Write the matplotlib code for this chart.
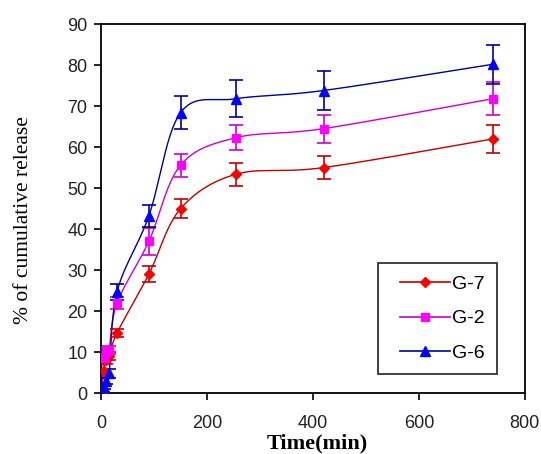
#!/usr/bin/env python3
import matplotlib
matplotlib.use("Agg")
import matplotlib.pyplot as plt
from matplotlib.lines import Line2D
from matplotlib.legend_handler import HandlerLine2D
import numpy as np

# sampling times (min)
time_min = [0, 5, 10, 15, 30, 90, 150, 255, 420, 740]

# cumulative release (%) and standard deviation per formulation
g7 = [0, 5.5, 8.0, 9.0, 14.7, 29.0, 45.0, 53.4, 55.0, 62.0]
g7_err = [0, 0.5, 0.8, 1.0, 1.0, 2.0, 2.4, 2.8, 2.9, 3.5]
g2 = [0, 8.5, 10.0, 10.5, 22.0, 37.0, 55.6, 62.3, 64.5, 71.8]
g2_err = [0, 1.0, 1.0, 1.0, 1.5, 3.2, 2.8, 3.0, 3.4, 4.0]
g6 = [0, 1.5, 3.0, 4.8, 24.7, 43.2, 68.4, 71.8, 73.8, 80.2]
g6_err = [0, 0.5, 0.8, 1.0, 2.0, 2.7, 4.0, 4.5, 4.8, 4.7]

labels = ["G-7", "G-2", "G-6"]
series = [g7, g2, g6]
errors = [g7_err, g2_err, g6_err]
line_colors = ["#c00000", "#cc00cc", "#000099"]
marker_colors = ["#ff0000", "#ff00ff", "#0000ff"]
markers = ["D", "s", "^"]
msizes = [5, 6, 7]


def smooth(x, y, n=30):
    # catmull-rom style bezier through the points (spreadsheet "smoothed line")
    x = np.asarray(x, float)
    y = np.asarray(y, float)
    pts = np.column_stack([x, y])
    out = [pts[0]]
    for i in range(len(pts) - 1):
        p0 = pts[i - 1] if i > 0 else pts[i]
        p1 = pts[i]
        p2 = pts[i + 1]
        p3 = pts[i + 2] if i + 2 < len(pts) else pts[i + 1]
        c1 = p1 + (p2 - p0) / 6.0
        c2 = p2 - (p3 - p1) / 6.0
        t = np.linspace(0, 1, n)[1:, None]
        seg = ((1 - t) ** 3) * p1 + 3 * ((1 - t) ** 2) * t * c1 + 3 * (1 - t) * t ** 2 * c2 + t ** 3 * p2
        out.extend(seg)
    out = np.array(out)
    return out[:, 0], out[:, 1]


class IndentedLine(HandlerLine2D):
    # legend sample line that starts a bit right of the frame padding
    def __init__(self, indent, **kw):
        super().__init__(**kw)
        self.indent = indent

    def create_artists(self, legend, orig_handle, xdescent, ydescent,
                       width, height, fontsize, trans):
        return super().create_artists(legend, orig_handle, xdescent - self.indent,
                                      ydescent, width - self.indent, height,
                                      fontsize, trans)


fig = plt.figure(figsize=(5.41, 4.54), dpi=100)
ax = fig.add_axes([0.187, 0.134, 0.783, 0.813])

handles = []
for lab, y, e, lc, mc, mk, ms in zip(labels, series, errors, line_colors, marker_colors, markers, msizes):
    sx, sy = smooth(time_min, y)
    ax.plot(sx, sy, color=lc, lw=1.0, zorder=2)
    ax.errorbar(time_min, y, yerr=e, fmt="none", ecolor=lc, elinewidth=1.2,
                capsize=5, capthick=1.2, zorder=3)
    ax.plot(time_min, y, linestyle="none", marker=mk, ms=ms, color=mc,
            markeredgecolor=mc, zorder=4)
    handles.append(Line2D([0], [0], color=lc, lw=1.2, marker=mk, ms=ms,
                          markerfacecolor=mc, markeredgecolor=mc))

ax.set_xlim(0, 800)
ax.set_ylim(0, 90)
ax.set_xticks(np.arange(0, 801, 200))
ax.set_yticks(np.arange(0, 91, 10))
ax.tick_params(direction="out", length=5, width=1.2, labelsize=13, colors="black")
ax.tick_params(axis="x", pad=11)
ax.tick_params(axis="y", pad=5)
for lbl in ax.get_xticklabels() + ax.get_yticklabels():
    lbl.set_family("Liberation Sans")
    lbl.set_color("#222222")
for s in ax.spines.values():
    s.set_linewidth(1.3)

ax.set_xlabel("Time(min)", family="Liberation Serif", fontweight="bold", fontsize=16)
ax.xaxis.set_label_coords(0.51, -0.108)
ax.set_ylabel("% of cumulative release", family="Liberation Serif", fontsize=15.5)
ax.yaxis.set_label_coords(-0.16, 0.47)

leg = ax.legend(handles, labels, loc="upper left",
                bbox_to_anchor=(378 / 541, 1 - 263 / 454), bbox_transform=fig.transFigure,
                frameon=True, fancybox=False, edgecolor="black", handlelength=3.06,
                labelspacing=0.85, borderpad=0.65, borderaxespad=0, handletextpad=0.1,
                handler_map={Line2D: IndentedLine(6.8)},
                prop={"family": "Liberation Sans", "size": 14})
leg.get_frame().set_linewidth(1.3)

fig.savefig("out.png", dpi=100)
